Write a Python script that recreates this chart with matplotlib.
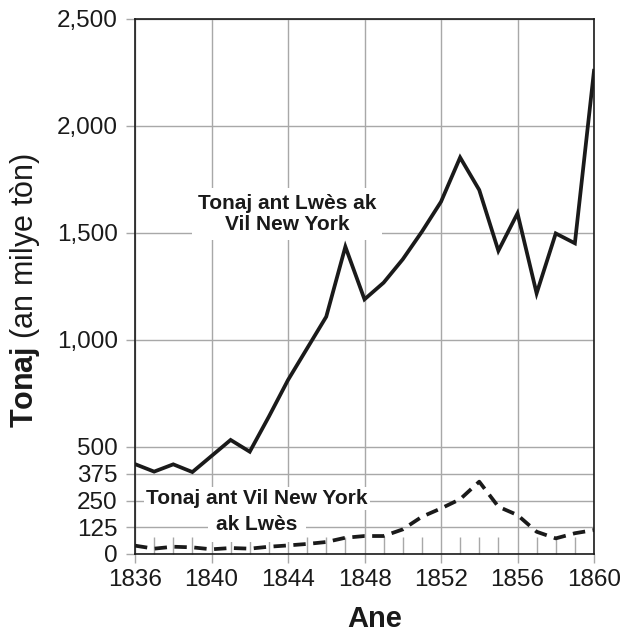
import matplotlib
matplotlib.use("Agg")
import matplotlib.pyplot as plt
from matplotlib.ticker import FixedLocator, MultipleLocator, FuncFormatter

plt.rcParams['font.family'] = ['Liberation Sans', 'DejaVu Sans']
plt.rcParams['mathtext.fontset'] = 'custom'
plt.rcParams['mathtext.rm'] = 'Liberation Sans'
plt.rcParams['mathtext.bf'] = 'Liberation Sans:bold'

years = list(range(1836, 1861))
to_new_york = [420, 385, 419, 383, 458, 533, 478, 642, 813, 961, 1109, 1436,
               1190, 1268, 1377, 1506, 1646, 1853, 1701, 1417, 1592, 1218,
               1498, 1452, 2258]
from_new_york = [39, 25, 34, 31, 22, 28, 25, 34, 40, 47, 56, 76, 84, 84, 115,
                 174, 213, 256, 338, 221, 182, 104, 73, 97, 112]

y_ticks = [0, 125, 250, 375, 500, 1000, 1500, 2000, 2500]
x_ticks = [1836, 1840, 1844, 1848, 1852, 1856, 1860]

fig = plt.figure(figsize=(6.42, 6.35), dpi=100)
ax = fig.add_axes([135/642, 1-554/635, 459/642, 535/635])

ink = '#1a1a1a'
grid_c = '#a8a8a8'

ax.plot(years, to_new_york, color=ink, lw=2.7, solid_joinstyle='miter', zorder=3)
ax.plot(years, from_new_york, color=ink, lw=2.7, dashes=(3.3, 2.0), zorder=3)

ax.set_xlim(1836, 1860)
ax.set_ylim(0, 2500)
ax.yaxis.set_major_locator(FixedLocator(y_ticks))
ax.xaxis.set_major_locator(FixedLocator(x_ticks))
ax.xaxis.set_minor_locator(MultipleLocator(1))
ax.yaxis.set_major_formatter(FuncFormatter(lambda v, p: f"{int(v):,}"))

ax.grid(True, which='major', color=grid_c, lw=1.0, zorder=0)
ax.set_axisbelow(True)
ax.tick_params(axis='both', which='major', direction='out', length=6.5,
               color=grid_c, width=1, labelsize=17.5, labelcolor=ink)
ax.tick_params(axis='x', which='minor', direction='in', length=12,
               color=grid_c, width=1)
ax.tick_params(axis='y', which='major', pad=6)
ax.tick_params(axis='x', which='major', pad=4)
for s in ax.spines.values():
    s.set_color(ink)
    s.set_linewidth(1.2)

bb = dict(facecolor='white', edgecolor='none', boxstyle='square,pad=0.3')
ax.text(1843.95, 1589, "Tonaj ant Lwès ak\nVil New York", ha='center',
        va='center', fontsize=15, fontweight='bold', color=ink,
        linespacing=1.15, bbox=bb, zorder=2)

bb2 = dict(facecolor='white', edgecolor='none', boxstyle='square,pad=0.1')
ax.text(1842.38, 261, "Tonaj ant Vil New York", ha='center', va='center',
        fontsize=15, fontweight='bold', color=ink, bbox=bb2, zorder=2)
ax.text(1842.38, 140, "ak Lwès", ha='center', va='center',
        fontsize=15, fontweight='bold', color=ink,
        bbox=dict(facecolor='white', edgecolor='none', boxstyle='square,pad=0.4'),
        zorder=2)

fig.text(375/642, 1-619/635, "Ane", ha='center', va='center', fontsize=21,
         fontweight='bold', color=ink)
fig.text(25/642, 1-291/635, r"$\mathbf{Tonaj}$ (an milye tòn)", ha='center',
         va='center', rotation=90, fontsize=22, color=ink)

fig.savefig("out.png", dpi=100)
